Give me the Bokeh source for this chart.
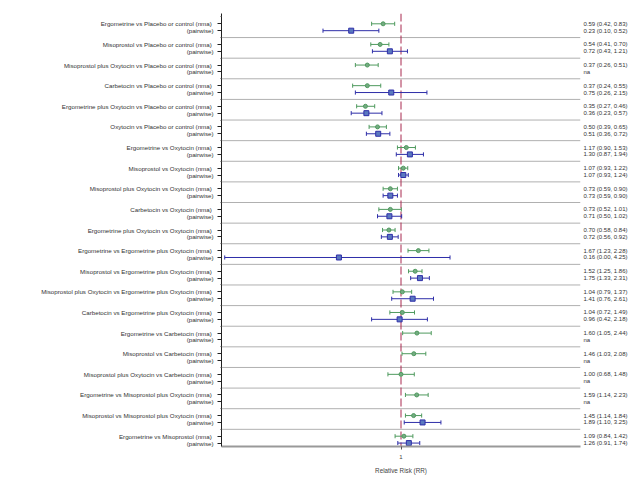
from bokeh.plotting import figure
from bokeh.models import FixedTicker, LinearAxis, Range1d, Span, ColumnDataSource
from bokeh.embed import file_html
from bokeh.resources import INLINE

comparisons = [
    "Ergometrine vs Placebo or control",
    "Misoprostol vs Placebo or control",
    "Misoprostol plus Oxytocin vs Placebo or control",
    "Carbetocin vs Placebo or control",
    "Ergometrine plus Oxytocin vs Placebo or control",
    "Oxytocin vs Placebo or control",
    "Ergometrine vs Oxytocin",
    "Misoprostol vs Oxytocin",
    "Misoprostol plus Oxytocin vs Oxytocin",
    "Carbetocin vs Oxytocin",
    "Ergometrine plus Oxytocin vs Oxytocin",
    "Ergometrine vs Ergometrine plus Oxytocin",
    "Misoprostol vs Ergometrine plus Oxytocin",
    "Misoprostol plus Oxytocin vs Ergometrine plus Oxytocin",
    "Carbetocin vs Ergometrine plus Oxytocin",
    "Ergometrine vs Carbetocin",
    "Misoprostol vs Carbetocin",
    "Misoprostol plus Oxytocin vs Carbetocin",
    "Ergometrine vs Misoprostol plus Oxytocin",
    "Misoprostol vs Misoprostol plus Oxytocin",
    "Ergometrine vs Misoprostol",
]

nma_rr = [0.59, 0.54, 0.37, 0.37, 0.35, 0.50, 1.17, 1.07, 0.73, 0.73, 0.70,
          1.67, 1.52, 1.04, 1.04, 1.60, 1.46, 1.00, 1.59, 1.45, 1.09]
nma_lo = [0.42, 0.41, 0.26, 0.24, 0.27, 0.39, 0.90, 0.93, 0.59, 0.52, 0.58,
          1.23, 1.25, 0.79, 0.72, 1.05, 1.03, 0.68, 1.14, 1.14, 0.84]
nma_hi = [0.83, 0.70, 0.51, 0.55, 0.46, 0.65, 1.53, 1.22, 0.90, 1.01, 0.84,
          2.28, 1.86, 1.37, 1.49, 2.44, 2.08, 1.48, 2.23, 1.84, 1.42]

pw_rr = [0.23, 0.72, None, 0.75, 0.36, 0.51, 1.30, 1.07, 0.73, 0.71, 0.72,
         0.16, 1.75, 1.41, 0.96, None, None, None, None, 1.89, 1.26]
pw_lo = [0.10, 0.43, None, 0.26, 0.23, 0.36, 0.87, 0.93, 0.59, 0.50, 0.56,
         0.0055, 1.33, 0.76, 0.42, None, None, None, None, 1.10, 0.91]
pw_hi = [0.52, 1.21, None, 2.15, 0.57, 0.72, 1.94, 1.24, 0.90, 1.02, 0.92,
         4.25, 2.31, 2.61, 2.18, None, None, None, None, 3.25, 1.74]

nma_text = ["0.59 (0.42, 0.83)", "0.54 (0.41, 0.70)", "0.37 (0.26, 0.51)", "0.37 (0.24, 0.55)",
            "0.35 (0.27, 0.46)", "0.50 (0.39, 0.65)", "1.17 (0.90, 1.53)", "1.07 (0.93, 1.22)",
            "0.73 (0.59, 0.90)", "0.73 (0.52, 1.01)", "0.70 (0.58, 0.84)", "1.67 (1.23, 2.28)",
            "1.52 (1.25, 1.86)", "1.04 (0.79, 1.37)", "1.04 (0.72, 1.49)", "1.60 (1.05, 2.44)",
            "1.46 (1.03, 2.08)", "1.00 (0.68, 1.48)", "1.59 (1.14, 2.23)", "1.45 (1.14, 1.84)",
            "1.09 (0.84, 1.42)"]
pw_text = ["0.23 (0.10, 0.52)", "0.72 (0.43, 1.21)", "na", "0.75 (0.26, 2.15)",
           "0.36 (0.23, 0.57)", "0.51 (0.36, 0.72)", "1.30 (0.87, 1.94)", "1.07 (0.93, 1.24)",
           "0.73 (0.59, 0.90)", "0.71 (0.50, 1.02)", "0.72 (0.56, 0.92)", "0.16 (0.00, 4.25)",
           "1.75 (1.33, 2.31)", "1.41 (0.76, 2.61)", "0.96 (0.42, 2.18)", "na",
           "na", "na", "na", "1.89 (1.10, 3.25)",
           "1.26 (0.91, 1.74)"]

x_min, x_max = 0.005, 200
n = len(comparisons)
FONT = "Liberation Sans"
GREEN_LINE = "#4f9a5e"
GREEN_FILL = "#74ab82"
BLUE_LINE = "#2e2ea8"
BLUE_FILL = "#5a78bf"

blank_rows = [3 * i for i in range(n)]
nma_rows = [3 * i + 1 for i in range(n)]
pw_rows = [3 * i + 2 for i in range(n)]

p = figure(width=632, height=480, x_axis_type="log",
           x_range=Range1d(x_min, x_max), y_range=Range1d(3 * n - 0.5, -0.5),
           output_backend="svg", toolbar_location=None,
           min_border_left=221, min_border_right=52, min_border_top=13, min_border_bottom=34)
p.xgrid.visible = False
p.ygrid.visible = False
p.outline_line_color = None

# separators
for g in range(1, n):
    p.add_layout(Span(location=blank_rows[g], dimension="width", line_color="#b0b0b0",
                      line_width=1, level="underlay"))
p.add_layout(Span(location=1, dimension="height", line_color="#a8284f",
                  line_dash="8 3", line_width=1, level="underlay"))

# nma
src_n = ColumnDataSource(dict(y=nma_rows, rr=nma_rr, lo=nma_lo, hi=nma_hi,
                              yt=[y - 0.3 for y in nma_rows], yb=[y + 0.3 for y in nma_rows]))
p.segment(x0="lo", x1="hi", y0="y", y1="y", source=src_n, line_color=GREEN_LINE, line_width=1)
p.segment(x0="lo", x1="lo", y0="yt", y1="yb", source=src_n, line_color=GREEN_LINE, line_width=1)
p.segment(x0="hi", x1="hi", y0="yt", y1="yb", source=src_n, line_color=GREEN_LINE, line_width=1)
p.scatter(x="rr", y="y", source=src_n, marker="circle", size=4,
          fill_color=GREEN_FILL, line_color=GREEN_LINE, line_width=1)

# pairwise
idx = [i for i in range(n) if pw_rr[i] is not None]
pys = [pw_rows[i] for i in idx]
src_p = ColumnDataSource(dict(y=pys, rr=[pw_rr[i] for i in idx], lo=[pw_lo[i] for i in idx],
                              hi=[pw_hi[i] for i in idx],
                              yt=[y - 0.3 for y in pys], yb=[y + 0.3 for y in pys]))
p.segment(x0="lo", x1="hi", y0="y", y1="y", source=src_p, line_color=BLUE_LINE, line_width=1)
p.segment(x0="lo", x1="lo", y0="yt", y1="yb", source=src_p, line_color=BLUE_LINE, line_width=1)
p.segment(x0="hi", x1="hi", y0="yt", y1="yb", source=src_p, line_color=BLUE_LINE, line_width=1)
p.scatter(x="rr", y="y", source=src_p, marker="square", size=5,
          fill_color=BLUE_FILL, line_color=BLUE_LINE, line_width=1)

# left axis labels
left = p.yaxis[0]
left.ticker = FixedTicker(ticks=sorted(nma_rows + pw_rows), minor_ticks=blank_rows)
overrides = {}
for i in range(n):
    overrides[nma_rows[i]] = comparisons[i] + " (nma)\u00a0"
    overrides[pw_rows[i]] = "(pairwise)"
left.major_label_overrides = overrides
left.major_tick_out = 4
left.major_tick_in = 0
left.minor_tick_out = 1
left.minor_tick_in = 0
left.axis_line_color = "#222222"
left.major_tick_line_color = "#222222"
left.minor_tick_line_color = "#555555"
left.major_label_text_font = FONT
left.major_label_text_font_size = "6.2px"
left.major_label_text_color = "#333333"
left.major_label_standoff = 4

# right axis: estimates
right = LinearAxis(ticker=FixedTicker(ticks=sorted(nma_rows + pw_rows)))
r_over = {}
for i in range(n):
    r_over[nma_rows[i]] = nma_text[i]
    r_over[pw_rows[i]] = pw_text[i]
right.major_label_overrides = r_over
right.major_tick_out = 0
right.major_tick_in = 0
right.minor_tick_out = 0
right.minor_tick_in = 0
right.axis_line_color = None
right.major_label_standoff = 3
right.major_label_text_font = FONT
right.major_label_text_font_size = "6px"
right.major_label_text_color = "#333333"
p.add_layout(right, "right")

# bottom axis
bx = p.xaxis[0]
bx.ticker = FixedTicker(ticks=[1], minor_ticks=[])
bx.major_label_overrides = {1: "1"}
bx.axis_line_color = "#999999"
bx.axis_line_width = 2
bx.major_tick_out = 3
bx.major_tick_in = 0
bx.major_tick_line_color = "#555555"
bx.major_label_text_font = FONT
bx.major_label_text_font_size = "6px"
bx.major_label_text_color = "#444444"
bx.axis_label = "Relative Risk (RR)"
bx.axis_label_text_font = FONT
bx.axis_label_text_font_style = "normal"
bx.axis_label_text_font_size = "6.3px"
bx.axis_label_text_color = "#444444"
bx.axis_label_standoff = 5

open("out.html", "w").write(file_html(p, INLINE))
